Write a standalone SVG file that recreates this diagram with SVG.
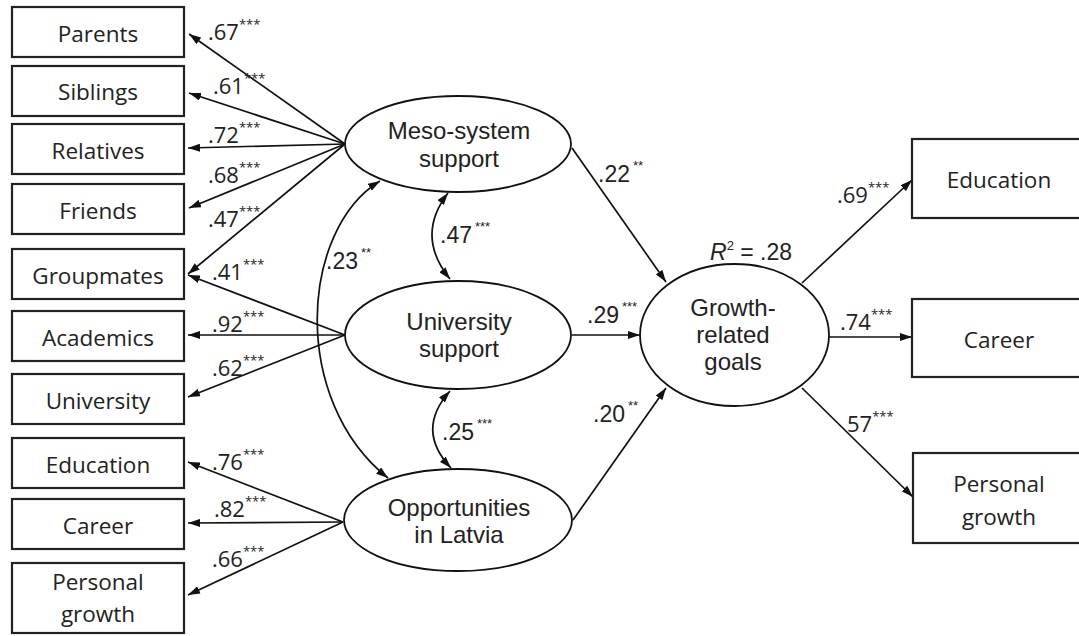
<svg xmlns="http://www.w3.org/2000/svg" width="1079" height="636" viewBox="0 0 1079 636">
<style>
.box{fill:#fff;stroke:#222;stroke-width:2.2}
.ell{fill:#fff;stroke:#111;stroke-width:1.8}
.bt{font-family:"Open Sans","Liberation Sans",sans-serif;font-size:22.5px;fill:#222;text-anchor:middle}
.et{font-family:"Liberation Sans",Arial,sans-serif;font-size:24px;fill:#222;text-anchor:middle}
.c{font-family:"Open Sans","Liberation Sans",sans-serif;font-size:22px;fill:#222}
.m{font-family:"Liberation Sans",Arial,sans-serif;font-size:23px;fill:#222}
.s{font-size:13px}
.ln{fill:none;stroke:#111;stroke-width:1.7}
</style>
<defs>
<marker id="ah" markerUnits="userSpaceOnUse" markerWidth="12" markerHeight="8" refX="12" refY="4" orient="auto-start-reverse">
<path d="M0,0 L12,4 L0,8 z" fill="#111"/>
</marker>
</defs>
<g id="connectors">
<line class="ln" x1="345" y1="144" x2="189" y2="34" marker-end="url(#ah)"/>
<line class="ln" x1="345" y1="144" x2="189" y2="93" marker-end="url(#ah)"/>
<line class="ln" x1="345" y1="144" x2="188" y2="148" marker-end="url(#ah)"/>
<line class="ln" x1="345" y1="144" x2="189" y2="208" marker-end="url(#ah)"/>
<line class="ln" x1="345" y1="144" x2="188" y2="274" marker-end="url(#ah)"/>
<line class="ln" x1="345" y1="335" x2="188" y2="275" marker-end="url(#ah)"/>
<line class="ln" x1="345" y1="335" x2="188" y2="335" marker-end="url(#ah)"/>
<line class="ln" x1="345" y1="335" x2="188" y2="397" marker-end="url(#ah)"/>
<line class="ln" x1="343" y1="522" x2="188" y2="462" marker-end="url(#ah)"/>
<line class="ln" x1="343" y1="522" x2="188" y2="523" marker-end="url(#ah)"/>
<line class="ln" x1="343" y1="522" x2="188" y2="595" marker-end="url(#ah)"/>
<line class="ln" x1="572" y1="148" x2="666" y2="282" marker-end="url(#ah)"/>
<line class="ln" x1="572" y1="335" x2="640" y2="335" marker-end="url(#ah)"/>
<line class="ln" x1="573" y1="520" x2="666" y2="388" marker-end="url(#ah)"/>
<line class="ln" x1="802" y1="283" x2="912" y2="180" marker-end="url(#ah)"/>
<line class="ln" x1="829" y1="337" x2="912" y2="337" marker-end="url(#ah)"/>
<line class="ln" x1="802" y1="388" x2="913" y2="497" marker-end="url(#ah)"/>
<path class="ln" d="M448,193 Q415,236 450,279" marker-start="url(#ah)" marker-end="url(#ah)"/>
<path class="ln" d="M450,391 Q415,430 451,468" marker-start="url(#ah)" marker-end="url(#ah)"/>
<path class="ln" d="M380,181 C300,230 290,400 388,478" marker-start="url(#ah)" marker-end="url(#ah)"/>
</g>
<g id="n-parents"><rect class="box" x="12" y="7" width="172" height="50"/><text class="bt" x="98" y="42">Parents</text></g>
<g id="n-siblings"><rect class="box" x="12" y="66" width="172" height="50"/><text class="bt" x="98" y="100">Siblings</text></g>
<g id="n-relatives"><rect class="box" x="12" y="124" width="172" height="50"/><text class="bt" x="98" y="159">Relatives</text></g>
<g id="n-friends"><rect class="box" x="12" y="184" width="172" height="50"/><text class="bt" x="98" y="219">Friends</text></g>
<g id="n-groupmates"><rect class="box" x="12" y="249" width="172" height="50"/><text class="bt" x="98" y="284">Groupmates</text></g>
<g id="n-academics"><rect class="box" x="12" y="311" width="172" height="50"/><text class="bt" x="98" y="346">Academics</text></g>
<g id="n-university"><rect class="box" x="12" y="374" width="172" height="50"/><text class="bt" x="98" y="409">University</text></g>
<g id="n-education-l"><rect class="box" x="12" y="438" width="172" height="50"/><text class="bt" x="98" y="473">Education</text></g>
<g id="n-career-l"><rect class="box" x="12" y="499" width="172" height="50"/><text class="bt" x="98" y="534">Career</text></g>
<g id="n-personal-l"><rect class="box" x="12" y="563" width="172" height="70"/><text class="bt" x="98" y="590">Personal</text><text class="bt" x="98" y="622">growth</text></g>
<g id="n-meso"><ellipse class="ell" cx="458" cy="144" rx="113" ry="48"/><text class="et" x="459" y="139">Meso-system</text><text class="et" x="459" y="167">support</text></g>
<g id="n-unisup"><ellipse class="ell" cx="458" cy="335" rx="113" ry="54"/><text class="et" x="459" y="330">University</text><text class="et" x="459" y="357">support</text></g>
<g id="n-opp"><ellipse class="ell" cx="458" cy="520" rx="114" ry="51"/><text class="et" x="459" y="516">Opportunities</text><text class="et" x="459" y="543">in Latvia</text></g>
<g id="n-growth"><ellipse class="ell" cx="734.5" cy="335" rx="94.5" ry="71"/><text class="et" x="733" y="316">Growth-</text><text class="et" x="733" y="343">related</text><text class="et" x="733" y="370">goals</text></g>
<g id="n-education-r"><rect class="box" x="912" y="139" width="174" height="79"/><text class="bt" x="999" y="188">Education</text></g>
<g id="n-career-r"><rect class="box" x="912" y="299" width="174" height="78"/><text class="bt" x="999" y="348">Career</text></g>
<g id="n-personal-r"><rect class="box" x="913" y="453" width="174" height="90"/><text class="bt" x="999" y="492">Personal</text><text class="bt" x="999" y="525">growth</text></g>
<g id="labels">
<text class="c" x="208" y="40">.67<tspan class="s" dy="-11">***</tspan></text>
<text class="c" x="213" y="94">.61<tspan class="s" dy="-11">***</tspan></text>
<text class="c" x="208" y="143">.72<tspan class="s" dy="-11">***</tspan></text>
<text class="c" x="208" y="183">.68<tspan class="s" dy="-11">***</tspan></text>
<text class="c" x="208" y="227">.47<tspan class="s" dy="-11">***</tspan></text>
<text class="c" x="212" y="280">.41<tspan class="s" dy="-11">***</tspan></text>
<text class="c" x="212" y="332">.92<tspan class="s" dy="-11">***</tspan></text>
<text class="c" x="212" y="376">.62<tspan class="s" dy="-11">***</tspan></text>
<text class="c" x="212" y="470">.76<tspan class="s" dy="-11">***</tspan></text>
<text class="c" x="214" y="517">.82<tspan class="s" dy="-11">***</tspan></text>
<text class="c" x="212" y="567">.66<tspan class="s" dy="-11">***</tspan></text>
<text class="m" x="326" y="269">.23<tspan class="s" dx="3" dy="-12">**</tspan></text>
<text class="m" x="440" y="243">.47<tspan class="s" dx="3" dy="-12">***</tspan></text>
<text class="m" x="598" y="182">.22<tspan class="s" dx="3" dy="-12">**</tspan></text>
<text class="m" x="587" y="323">.29<tspan class="s" dx="3" dy="-12">***</tspan></text>
<text class="m" x="442" y="440">.25<tspan class="s" dx="3" dy="-12">***</tspan></text>
<text class="m" x="593" y="422">.20<tspan class="s" dx="3" dy="-12">**</tspan></text>
<text class="m" x="710" y="260"><tspan font-style="italic">R</tspan><tspan class="s" dy="-10">2</tspan><tspan dy="10"> = .28</tspan></text>
<text class="c" x="837" y="203">.69<tspan class="s" dy="-11">***</tspan></text>
<text class="c" x="840" y="330">.74<tspan class="s" dy="-11">***</tspan></text>
<text class="c" x="847" y="432">57<tspan class="s" dy="-11">***</tspan></text>
</g>
</svg>
